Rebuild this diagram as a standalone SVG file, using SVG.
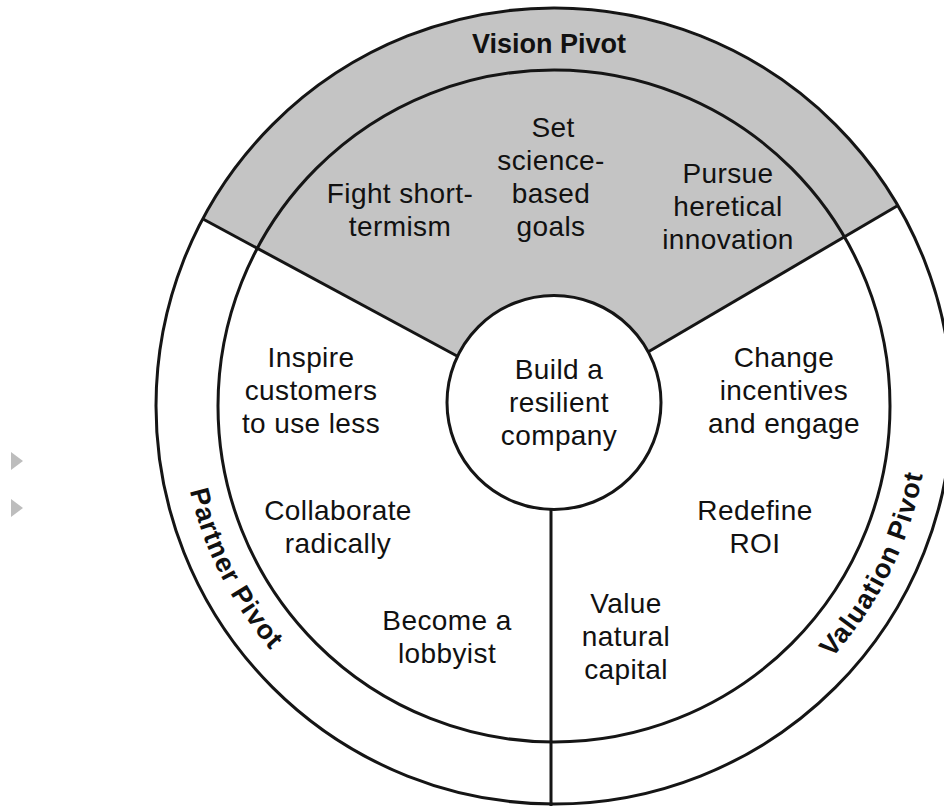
<svg xmlns="http://www.w3.org/2000/svg" xmlns:xlink="http://www.w3.org/1999/xlink" width="944" height="806" viewBox="0 0 944 806">
  <style>
    .ring { fill: none; stroke: #151515; stroke-width: 3; }
    .div { stroke: #151515; stroke-width: 3; fill: none; }
    .lbl { font-family: "Liberation Sans", Arial, Helvetica, sans-serif; font-size: 28px; letter-spacing: 0.4px; fill: #111; text-anchor: middle; }
    .pivot { font-family: "Liberation Sans", Arial, Helvetica, sans-serif; font-size: 27px; font-weight: bold; fill: #111; text-anchor: middle; }
    .curved { letter-spacing: 1px; }
    .tick { fill: #bdbdbd; }
  </style>
  <defs>
    <!-- arcs used as baselines for the rotated ring labels (counter-clockwise) -->
    <path id="arcPartner" d="M 189.6 321.8 A 374 374 0 0 0 407.9 750.3"/>
    <path id="arcValuation" d="M 704.7 749.4 A 375 375 0 0 0 918.4 317.2"/>
  </defs>
  <rect width="944" height="806" fill="#ffffff"/>

  <!-- small side markers -->
  <polygon class="tick" points="11,452 23,461 11,470"/>
  <polygon class="tick" points="11,499 23,508 11,517"/>

  <!-- shaded vision sector -->
  <path d="M 203 219 A 398 398 0 0 1 897 206 L 648 352 A 108 108 0 0 0 457 356 Z" fill="#c4c4c4"/>

  <!-- rings -->
  <g id="rings">
    <circle class="ring" cx="554" cy="406" r="398"/>
    <circle class="ring" cx="554" cy="406" r="336"/>
  </g>

  <!-- connectors: sector dividers -->
  <g id="connectors">
    <line class="div" x1="457" y1="356" x2="203" y2="219"/>
    <line class="div" x1="648" y1="352" x2="897" y2="206"/>
    <line class="div" x1="551" y1="510" x2="551" y2="806"/>
  </g>

  <!-- hub -->
  <g id="hub">
    <circle cx="554" cy="402.5" r="107" fill="#ffffff" stroke="#151515" stroke-width="3"/>
    <text class="lbl" x="559"><tspan x="559" y="379">Build a</tspan><tspan x="559" y="412">resilient</tspan><tspan x="559" y="445">company</tspan></text>
  </g>

  <!-- pivot titles -->
  <g id="vision-pivot">
    <text class="pivot" x="549" y="53">Vision Pivot</text>
  </g>
  <g id="partner-pivot">
    <text class="pivot curved"><textPath xlink:href="#arcPartner" startOffset="50%">Partner Pivot</textPath></text>
  </g>
  <g id="valuation-pivot">
    <text class="pivot curved"><textPath xlink:href="#arcValuation" startOffset="50%">Valuation Pivot</textPath></text>
  </g>

  <!-- vision actions -->
  <g id="fight-short-termism">
    <text class="lbl"><tspan x="400" y="203">Fight short-</tspan><tspan x="400" y="236">termism</tspan></text>
  </g>
  <g id="set-goals">
    <text class="lbl"><tspan x="553" y="137">Set</tspan><tspan x="551" y="170">science-</tspan><tspan x="551" y="203">based</tspan><tspan x="551" y="236">goals</tspan></text>
  </g>
  <g id="heretical-innovation">
    <text class="lbl"><tspan x="728" y="183">Pursue</tspan><tspan x="728" y="216">heretical</tspan><tspan x="728" y="249">innovation</tspan></text>
  </g>

  <!-- partner actions -->
  <g id="inspire-customers">
    <text class="lbl"><tspan x="311" y="367">Inspire</tspan><tspan x="311" y="400">customers</tspan><tspan x="311" y="433">to use less</tspan></text>
  </g>
  <g id="collaborate">
    <text class="lbl"><tspan x="338" y="520">Collaborate</tspan><tspan x="338" y="553">radically</tspan></text>
  </g>
  <g id="lobbyist">
    <text class="lbl"><tspan x="447" y="630">Become a</tspan><tspan x="447" y="663">lobbyist</tspan></text>
  </g>

  <!-- valuation actions -->
  <g id="change-incentives">
    <text class="lbl"><tspan x="784" y="367">Change</tspan><tspan x="784" y="400">incentives</tspan><tspan x="784" y="433">and engage</tspan></text>
  </g>
  <g id="redefine-roi">
    <text class="lbl"><tspan x="755" y="520">Redefine</tspan><tspan x="755" y="553">ROI</tspan></text>
  </g>
  <g id="natural-capital">
    <text class="lbl"><tspan x="626" y="613">Value</tspan><tspan x="626" y="646">natural</tspan><tspan x="626" y="679">capital</tspan></text>
  </g>
</svg>
